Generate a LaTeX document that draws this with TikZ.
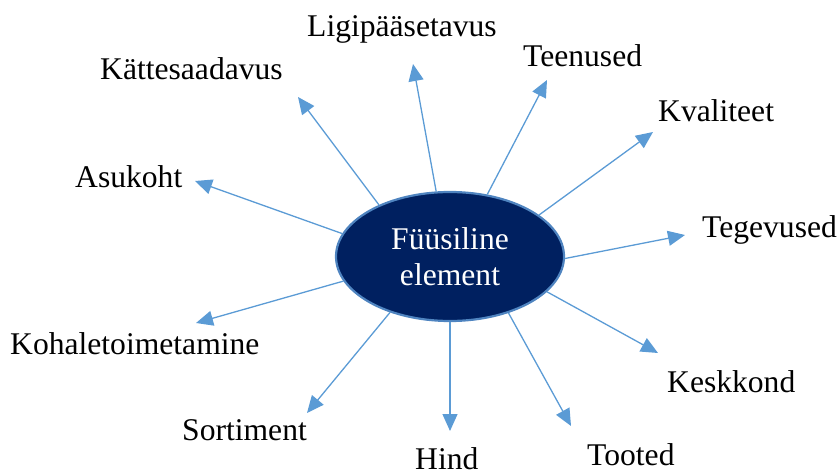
\documentclass[tikz,border=0pt]{standalone}
\usepackage{fontspec}
\setmainfont{Liberation Serif}
\usetikzlibrary{arrows.meta,shapes.geometric}
\definecolor{navy}{HTML}{002060}
\definecolor{rim}{HTML}{4F84C0}
\definecolor{ray}{HTML}{5B9BD5}
\begin{document}
\begin{tikzpicture}[x=1pt,y=-1pt,
  hub/.style={ellipse,fill=navy,draw=rim,line width=2.2pt,
    minimum width=228pt,minimum height=129pt,inner sep=0pt,
    text=white,align=center,font=\fontsize{31.6pt}{36pt}\selectfont},
  lbl/.style={anchor=base west,inner sep=0pt,font=\fontsize{31.6pt}{36pt}\selectfont},
  ray/.style={draw=ray,line width=1.3pt,-{Triangle[length=17pt,width=15pt]}}]
\useasboundingbox (0,0) rectangle (840,473);

% central ellipse
\node[hub] (e) at (450,256.5) {Füüsiline\\element};

% labels
\node[lbl] (ligi) at (307,37) {Ligipääsetavus};
\node[lbl] (teen) at (523,67) {Teenused};
\node[lbl] (katt) at (100,80) {Kättesaadavus};
\node[lbl] (kval) at (658,122) {Kvaliteet};
\node[lbl] (tege) at (702,237) {Tegevused};
\node[lbl] (asuk) at (75,187) {Asukoht};
\node[lbl] (koha) at (10,354) {Kohaletoimetamine};
\node[lbl] (kesk) at (667,392) {Keskkond};
\node[lbl] (sort) at (182,440) {Sortiment};
\node[lbl] (hind) at (415,469) {Hind};
\node[lbl] (toot) at (587,465) {Tooted};

% arrow tips
\coordinate (tLigi) at (413,64);
\coordinate (tTeen) at (547,80);
\coordinate (tKatt) at (298,97);
\coordinate (tAsuk) at (195,181);
\coordinate (tKoha) at (196,323);
\coordinate (tSort) at (307,413);
\coordinate (tHind) at (450,431);
\coordinate (tToot) at (571,426);
\coordinate (tKesk) at (658,353);
\coordinate (tTege) at (685,235);
\coordinate (tKval) at (653,132);

% rays from the ellipse
\draw[ray] (e.102.7) -- (tLigi);
\draw[ray] (e.59.8) -- (tTeen);
\draw[ray] (e.144.8) -- (tKatt);
\draw[ray] (e.168) -- (tAsuk);
\draw[ray] (e.193) -- (tKoha);
\draw[ray] (e.223.4) -- (tSort);
\draw[ray] (e.270) -- (tHind);
\draw[ray] (e.316.7) -- (tToot);
\draw[ray] (e.340.8) -- (tKesk);
\draw[ray] (e.-1) -- (tTege);
\draw[ray] (e.25.8) -- (tKval);
\end{tikzpicture}
\end{document}
